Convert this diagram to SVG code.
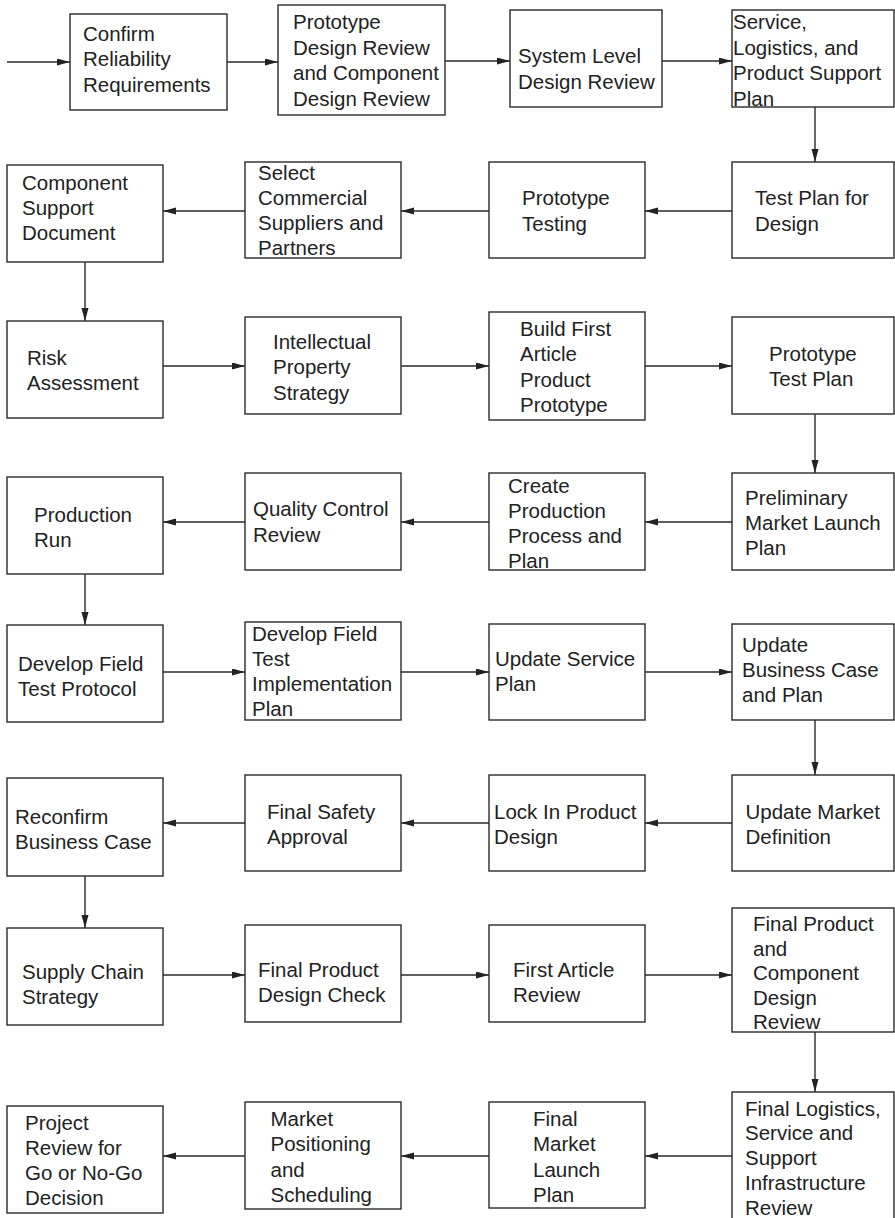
<svg xmlns="http://www.w3.org/2000/svg" width="895" height="1218" viewBox="0 0 895 1218">
<defs>
<marker id="ah" markerUnits="userSpaceOnUse" markerWidth="14" markerHeight="8" refX="13" refY="3.5" orient="auto">
<path d="M0,0 L13,3.5 L0,7 Z" fill="#222"/>
</marker>
<style>
rect{fill:#fff;stroke:#2a2a2a;stroke-width:1.4}
text{font-family:"Liberation Sans",Arial,sans-serif;font-size:20.5px;fill:#222}
.c line{stroke:#2a2a2a;stroke-width:1.4;marker-end:url(#ah)}
</style>
</defs>
<rect x="0" y="0" width="895" height="1218" style="fill:#fff;stroke:none"/>
<g class="c" id="connectors">
<line x1="7" y1="62" x2="70" y2="62"/>
<line x1="227" y1="62" x2="278" y2="62"/>
<line x1="445" y1="61" x2="510" y2="61"/>
<line x1="662" y1="61" x2="732" y2="61"/>
<line x1="815" y1="107" x2="815" y2="162"/>
<line x1="732" y1="211" x2="645" y2="211"/>
<line x1="489" y1="211" x2="401" y2="211"/>
<line x1="245" y1="211" x2="163" y2="211"/>
<line x1="85" y1="262" x2="85" y2="321"/>
<line x1="163" y1="366" x2="245" y2="366"/>
<line x1="401" y1="366" x2="489" y2="366"/>
<line x1="645" y1="366" x2="732" y2="366"/>
<line x1="815" y1="414" x2="815" y2="473"/>
<line x1="732" y1="522" x2="645" y2="522"/>
<line x1="489" y1="522" x2="401" y2="522"/>
<line x1="245" y1="522" x2="163" y2="522"/>
<line x1="85" y1="574" x2="85" y2="625"/>
<line x1="163" y1="672" x2="245" y2="672"/>
<line x1="401" y1="672" x2="489" y2="672"/>
<line x1="645" y1="672" x2="732" y2="672"/>
<line x1="815" y1="720" x2="815" y2="775"/>
<line x1="732" y1="823" x2="645" y2="823"/>
<line x1="489" y1="823" x2="401" y2="823"/>
<line x1="245" y1="823" x2="163" y2="823"/>
<line x1="85" y1="876" x2="85" y2="928"/>
<line x1="163" y1="975" x2="245" y2="975"/>
<line x1="401" y1="975" x2="489" y2="975"/>
<line x1="645" y1="975" x2="732" y2="975"/>
<line x1="815" y1="1032" x2="815" y2="1092"/>
<line x1="732" y1="1156" x2="645" y2="1156"/>
<line x1="489" y1="1156" x2="401" y2="1156"/>
<line x1="245" y1="1156" x2="163" y2="1156"/>
</g>
<g id="n1"><rect x="70" y="14" width="157" height="96"/><text x="83"><tspan x="83" y="40.5">Confirm</tspan><tspan x="83" y="66">Reliability</tspan><tspan x="83" y="91.5">Requirements</tspan></text></g>
<g id="n2"><rect x="278" y="5" width="167" height="110"/><text><tspan x="293" y="29">Prototype</tspan><tspan x="293" y="54.5">Design Review</tspan><tspan x="293" y="80">and Component</tspan><tspan x="293" y="105.5">Design Review</tspan></text></g>
<g id="n3"><rect x="510" y="10" width="152" height="97"/><text><tspan x="518" y="63">System Level</tspan><tspan x="518" y="88.5">Design Review</tspan></text></g>
<g id="n4"><rect x="732" y="10" width="162" height="97"/><text><tspan x="733" y="29">Service,</tspan><tspan x="733" y="54.5">Logistics, and</tspan><tspan x="733" y="80">Product Support</tspan><tspan x="733" y="105.5">Plan</tspan></text></g>
<g id="n5"><rect x="732" y="162" width="162" height="96"/><text><tspan x="755" y="205">Test Plan for</tspan><tspan x="755" y="230.5">Design</tspan></text></g>
<g id="n6"><rect x="489" y="162" width="156" height="96"/><text><tspan x="522" y="205">Prototype</tspan><tspan x="522" y="230.5">Testing</tspan></text></g>
<g id="n7"><rect x="245" y="162" width="156" height="96"/><text><tspan x="258" y="180">Select</tspan><tspan x="258" y="205">Commercial</tspan><tspan x="258" y="230">Suppliers and</tspan><tspan x="258" y="255">Partners</tspan></text></g>
<g id="n8"><rect x="7" y="165" width="156" height="97"/><text><tspan x="22" y="190">Component</tspan><tspan x="22" y="215">Support</tspan><tspan x="22" y="240">Document</tspan></text></g>
<g id="n9"><rect x="7" y="321" width="156" height="97"/><text><tspan x="27" y="365">Risk</tspan><tspan x="27" y="390">Assessment</tspan></text></g>
<g id="n10"><rect x="245" y="317" width="156" height="97"/><text><tspan x="273" y="348.5">Intellectual</tspan><tspan x="273" y="374">Property</tspan><tspan x="273" y="399.5">Strategy</tspan></text></g>
<g id="n11"><rect x="489" y="312" width="156" height="108"/><text><tspan x="520" y="336">Build First</tspan><tspan x="520" y="361">Article</tspan><tspan x="520" y="386.5">Product</tspan><tspan x="520" y="412">Prototype</tspan></text></g>
<g id="n12"><rect x="732" y="317" width="162" height="97"/><text><tspan x="769" y="361">Prototype</tspan><tspan x="769" y="386">Test Plan</tspan></text></g>
<g id="n13"><rect x="732" y="473" width="162" height="97"/><text><tspan x="745" y="504.5">Preliminary</tspan><tspan x="745" y="530">Market Launch</tspan><tspan x="745" y="555">Plan</tspan></text></g>
<g id="n14"><rect x="489" y="473" width="156" height="97"/><text><tspan x="508" y="492.5">Create</tspan><tspan x="508" y="517.5">Production</tspan><tspan x="508" y="543">Process and</tspan><tspan x="508" y="568">Plan</tspan></text></g>
<g id="n15"><rect x="245" y="473" width="156" height="97"/><text><tspan x="253" y="516">Quality Control</tspan><tspan x="253" y="541.5">Review</tspan></text></g>
<g id="n16"><rect x="7" y="477" width="156" height="97"/><text><tspan x="34" y="521.5">Production</tspan><tspan x="34" y="546.5">Run</tspan></text></g>
<g id="n17"><rect x="7" y="625" width="156" height="97"/><text><tspan x="18" y="671">Develop Field</tspan><tspan x="18" y="696">Test Protocol</tspan></text></g>
<g id="n18"><rect x="245" y="622" width="156" height="98"/><text><tspan x="252" y="641">Develop Field</tspan><tspan x="252" y="666">Test</tspan><tspan x="252" y="691">Implementation</tspan><tspan x="252" y="716">Plan</tspan></text></g>
<g id="n19"><rect x="489" y="624" width="156" height="96"/><text><tspan x="495" y="666">Update Service</tspan><tspan x="495" y="691">Plan</tspan></text></g>
<g id="n20"><rect x="732" y="624" width="162" height="96"/><text><tspan x="742" y="652">Update</tspan><tspan x="742" y="677">Business Case</tspan><tspan x="742" y="702">and Plan</tspan></text></g>
<g id="n21"><rect x="732" y="775" width="162" height="96"/><text><tspan x="745.5" y="818.5">Update Market</tspan><tspan x="745.5" y="844">Definition</tspan></text></g>
<g id="n22"><rect x="489" y="775" width="156" height="96"/><text><tspan x="494" y="818.5">Lock In Product</tspan><tspan x="494" y="844">Design</tspan></text></g>
<g id="n23"><rect x="245" y="775" width="156" height="96"/><text><tspan x="267" y="818.5">Final Safety</tspan><tspan x="267" y="843.5">Approval</tspan></text></g>
<g id="n24"><rect x="7" y="778" width="156" height="98"/><text><tspan x="15" y="823.5">Reconfirm</tspan><tspan x="15" y="848.5">Business Case</tspan></text></g>
<g id="n25"><rect x="7" y="928" width="156" height="97"/><text><tspan x="22" y="979">Supply Chain</tspan><tspan x="22" y="1004">Strategy</tspan></text></g>
<g id="n26"><rect x="245" y="925" width="156" height="97"/><text><tspan x="258" y="977">Final Product</tspan><tspan x="258" y="1002">Design Check</tspan></text></g>
<g id="n27"><rect x="489" y="925" width="156" height="97"/><text><tspan x="513" y="977">First Article</tspan><tspan x="513" y="1002">Review</tspan></text></g>
<g id="n28"><rect x="732" y="908" width="162" height="124"/><text><tspan x="753" y="931">Final Product</tspan><tspan x="753" y="955.5">and</tspan><tspan x="753" y="980">Component</tspan><tspan x="753" y="1004.5">Design</tspan><tspan x="753" y="1029">Review</tspan></text></g>
<g id="n29"><rect x="732" y="1092" width="162" height="140"/><text><tspan x="745" y="1115.5">Final Logistics,</tspan><tspan x="745" y="1140">Service and</tspan><tspan x="745" y="1165">Support</tspan><tspan x="745" y="1190">Infrastructure</tspan><tspan x="745" y="1215">Review</tspan></text></g>
<g id="n30"><rect x="489" y="1102" width="156" height="106"/><text><tspan x="533" y="1125.5">Final</tspan><tspan x="533" y="1151">Market</tspan><tspan x="533" y="1176.5">Launch</tspan><tspan x="533" y="1202">Plan</tspan></text></g>
<g id="n31"><rect x="245" y="1102" width="156" height="107"/><text><tspan x="270.5" y="1125.5">Market</tspan><tspan x="270.5" y="1151">Positioning</tspan><tspan x="270.5" y="1176.5">and</tspan><tspan x="270.5" y="1202">Scheduling</tspan></text></g>
<g id="n32"><rect x="7" y="1106" width="156" height="107"/><text><tspan x="25" y="1129.5">Project</tspan><tspan x="25" y="1155">Review for</tspan><tspan x="25" y="1180">Go or No-Go</tspan><tspan x="25" y="1205">Decision</tspan></text></g>
</svg>
